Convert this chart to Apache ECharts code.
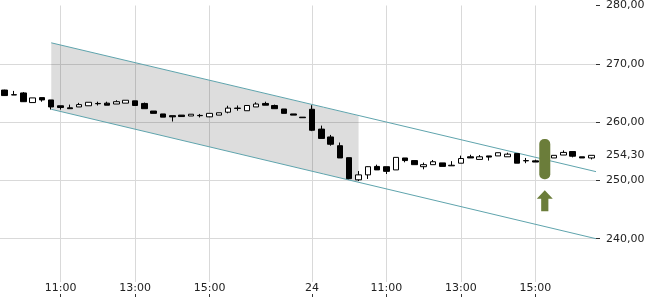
<!DOCTYPE html>
<html>
<head>
<meta charset="utf-8">
<script src="https://cdn.jsdelivr.net/npm/echarts@6/dist/echarts.min.js"></script>
<style>
html,body{margin:0;padding:0;background:#fff;}
#chart{width:650px;height:300px;}
</style>
</head>
<body>
<div id="chart"></div>
<script>
// 15-minute periods: day 1 from 09:30 to 17:30, day 2 (24th) from 09:00 to 16:30
var times = [
  '09:30','09:45','10:00','10:15','10:30','10:45','11:00','11:15','11:30','11:45',
  '12:00','12:15','12:30','12:45','13:00','13:15','13:30','13:45','14:00','14:15',
  '14:30','14:45','15:00','15:15','15:30','15:45','16:00','16:15','16:30','16:45',
  '17:00','17:15','17:30',
  '09:00','09:15','09:30','09:45','10:00','10:15','10:30','10:45','11:00','11:15',
  '11:30','11:45','12:00','12:15','12:30','12:45','13:00','13:15','13:30','13:45',
  '14:00','14:15','14:30','14:45','15:00','15:15','15:30','15:45','16:00','16:15',
  '16:30'
];
var opens = [
  265.5,264.7,265.0,263.35,264.2,263.8,262.8,262.45,262.6,262.8,
  263.2,263.25,263.1,263.25,263.65,263.2,261.9,261.4,261.1,261.2,
  261.05,261.15,260.9,261.2,261.7,262.4,261.95,262.6,263.2,262.85,
  262.25,261.4,260.85,
  262.2,258.8,257.45,255.95,253.9,250.1,250.95,252.4,252.35,251.8,
  253.85,253.4,252.35,252.7,253.0,252.5,252.95,254.05,253.6,254.2,
  254.2,254.05,254.6,253.4,253.35,253.5,253.85,254.35,254.95,254.05,
  253.85
];
var closes = [
  264.55,264.65,263.5,264.15,263.8,262.6,262.5,262.3,263.0,263.4,
  263.15,262.9,263.5,263.75,262.85,262.3,261.5,260.85,260.9,260.95,
  261.35,261.1,261.5,261.6,262.4,262.35,262.85,263.1,262.9,262.3,
  261.5,261.2,260.75,
  258.6,257.2,256.2,253.85,250.3,250.95,252.35,251.8,251.55,253.95,
  253.4,252.7,252.7,253.2,252.4,252.6,253.75,253.85,254.05,254.0,
  254.75,254.5,252.95,253.35,253.15,253.95,254.3,254.8,254.15,253.85,
  254.3
];
var lows = [
  264.5,264.65,263.45,263.35,263.5,262.15,262.15,262.3,262.6,262.8,
  262.85,262.9,263.1,263.25,262.85,262.3,261.5,260.85,260.1,260.95,
  261.05,260.8,260.85,261.2,261.5,261.95,261.95,262.6,262.9,262.3,
  261.5,261.2,260.75,
  258.45,257.2,255.95,253.85,250.2,249.9,250.25,251.8,251.1,251.8,
  253.1,252.7,251.9,252.7,252.4,252.5,252.95,253.85,253.6,253.4,
  254.2,254.05,252.95,252.95,253.15,253.5,253.85,254.35,253.95,253.85,
  253.6
];
var highs = [
  265.55,265.35,265.15,264.15,264.2,263.8,262.8,263.0,263.3,263.4,
  263.5,263.5,263.75,263.75,263.65,263.35,261.9,261.4,261.1,261.2,
  261.35,261.4,261.5,261.6,262.8,262.85,262.85,263.4,263.5,263.0,
  262.25,261.4,260.85,
  262.9,259.4,257.8,256.5,253.9,251.6,252.4,252.7,252.35,253.95,
  253.85,253.4,253.05,253.5,253.0,253.3,254.25,254.4,254.35,254.2,
  254.75,254.75,254.6,253.85,253.55,254.3,254.3,255.15,254.95,254.05,
  254.3
];
// x-axis labels (index into times) and their texts
var tickIndex = [6, 14, 22, 33, 41, 49, 57];
var tickText = ['11:00', '13:00', '15:00', '24', '11:00', '13:00', '15:00'];
// y-axis ticks and horizontal grid lines
var yTicks = [240, 250, 260, 270, 280];
var yGrid = [240, 250, 260, 270];
var lastPrice = 254.30;
// trend channel [index, price]
var upperLine = [[5, 273.6], [63.5, 251.5]];
var lowerLine = [[5, 262.2], [63.5, 240.0]];
var shadeUpper = [[5, 273.6], [38, 261.1]];
var shadeLower = [[5, 262.2], [38, 249.7]];
// signal marker: candle index, price range; arrow tip/bottom prices
var signalIndex = 58;
var signalRange = [250.2, 257.1];
var arrowRange = [248.3, 244.7];

var FONT = 'DejaVu Sans';
var fmt = function (v) { return v.toFixed(2).replace('.', ','); };

var candleData = opens.map(function (o, i) {
  return [i, o, closes[i], lows[i], highs[i]];
});

var chart = echarts.init(document.getElementById('chart'), null, {renderer: 'canvas'});
chart.setOption({
  animation: false,
  backgroundColor: '#fff',
  grid: {left: 0, right: 54, top: 4, bottom: 3, containLabel: false},
  xAxis: {
    type: 'value', min: -0.5, max: 63.5,
    axisLine: {show: false, onZero: false},
    axisTick: {show: true, inside: true, length: 4, customValues: tickIndex,
      lineStyle: {color: '#333', width: 1}},
    axisLabel: {
      show: true, inside: true, margin: 3, customValues: tickIndex,
      fontFamily: FONT, fontSize: 11, color: '#222',
      backgroundColor: '#fff', padding: [1, 1, 0, 1],
      formatter: function (v) { var k = tickIndex.indexOf(Math.round(v)); return k >= 0 ? tickText[k] : ''; }
    },
    splitLine: {show: true, lineStyle: {color: '#d9d9d9', width: 1}}
  },
  yAxis: [{
    type: 'value', position: 'right', min: 230, max: 280,
    axisLine: {show: false, onZero: false},
    axisTick: {show: true, length: 4, customValues: yTicks, lineStyle: {color: '#333'}},
    axisLabel: {show: true, margin: 10, customValues: yTicks, fontFamily: FONT, fontSize: 11,
      color: '#222', formatter: fmt},
    splitLine: {show: false}
  }, {
    type: 'value', position: 'right', min: 230, max: 280,
    axisLine: {show: false, onZero: false},
    axisTick: {show: false, customValues: yGrid},
    axisLabel: {show: false, customValues: yGrid},
    splitLine: {show: true, lineStyle: {color: '#d9d9d9', width: 1}}
  }],
  series: [
    {
      type: 'custom', z: 1, silent: true,
      data: [[shadeUpper[0][0], shadeUpper[0][1]]],
      renderItem: function (params, api) {
        var pts = [
          api.coord(shadeUpper[0]), api.coord(shadeUpper[1]),
          api.coord(shadeLower[1]), api.coord(shadeLower[0])
        ];
        return {type: 'polygon', shape: {points: pts}, style: {fill: 'rgba(0,0,0,0.135)'}};
      }
    },
    {type: 'line', z: 2, data: upperLine, showSymbol: false, silent: true,
      lineStyle: {color: '#5fa4ad', width: 1}},
    {type: 'line', z: 2, data: lowerLine, showSymbol: false, silent: true,
      lineStyle: {color: '#5fa4ad', width: 1}},
    {
      type: 'candlestick', z: 3, data: candleData, barWidth: 6,
      itemStyle: {color: '#fff', color0: '#000', borderColor: '#000', borderColor0: '#000', borderWidth: 1},
      markLine: {
        silent: true, symbol: 'none',
        lineStyle: {color: 'rgba(0,0,0,0)', width: 1, type: 'solid'},
        data: [{yAxis: lastPrice}],
        label: {show: true, position: 'end', distance: 10, fontFamily: FONT, fontSize: 11, color: '#222',
          formatter: function () { return fmt(lastPrice); }}
      }
    },
    {
      type: 'custom', z: 4, silent: true,
      data: [[signalIndex, signalRange[0], signalRange[1], arrowRange[0], arrowRange[1]]],
      encode: {x: 0, y: [1, 2, 3, 4]},
      renderItem: function (params, api) {
        var x = api.value(0);
        var top = api.coord([x, api.value(2)]);
        var bot = api.coord([x, api.value(1)]);
        var tip = api.coord([x, api.value(3)]);
        var end = api.coord([x, api.value(4)]);
        var cx = top[0];
        var w = 11, hw = 8, sw = 3.6, hh = 8.5;
        return {
          type: 'group',
          children: [
            {type: 'rect', shape: {x: cx - w / 2, y: top[1], width: w, height: bot[1] - top[1], r: 5},
              style: {fill: '#6b7d3a'}},
            {type: 'polygon', shape: {points: [
              [cx, tip[1]], [cx + hw, tip[1] + hh], [cx + sw, tip[1] + hh], [cx + sw, end[1]],
              [cx - sw, end[1]], [cx - sw, tip[1] + hh], [cx - hw, tip[1] + hh]
            ]}, style: {fill: '#6b7d3a'}}
          ]
        };
      }
    }
  ]
});
</script>
</body>
</html>
